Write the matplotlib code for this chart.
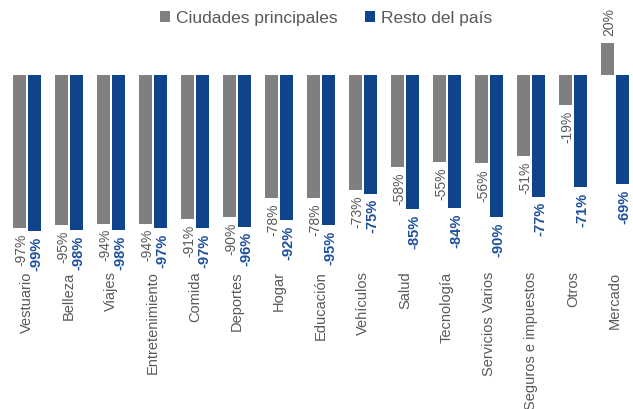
import matplotlib
matplotlib.use("Agg")
import matplotlib.pyplot as plt
import numpy as np

plt.rcParams["font.family"] = ["Liberation Sans", "DejaVu Sans"]

categorias = ["Vestuario", "Belleza", "Viajes", "Entretenimiento", "Comida",
              "Deportes", "Hogar", "Educación", "Vehículos", "Salud",
              "Tecnología", "Servicios Varios", "Seguros e impuestos",
              "Otros", "Mercado"]
ciudades = [-97, -95, -94, -94, -91, -90, -78, -78, -73, -58, -55, -56, -51, -19, 20]
resto = [-99, -98, -98, -97, -97, -96, -92, -95, -75, -85, -84, -90, -77, -71, -69]

GRIS = "#7f7f7f"
AZUL = "#0f438b"
AZUL_TXT = "#1d4f9c"
TXT = "#595959"

fig = plt.figure(figsize=(6.33, 4.09), dpi=100)
# eje: cero en y=75 px, 158 px por 100 %
ylo, yhi = -105, 22
top_px = 75 - yhi * 1.58
bot_px = 75 - ylo * 1.58
ax = fig.add_axes([0, (409 - bot_px) / 409, 1, (bot_px - top_px) / 409])

x = np.arange(len(categorias))
w = 0.3
off = 0.185
ax.bar(x - off, ciudades, w, color=GRIS, label="Ciudades principales")
ax.bar(x + off, resto, w, color=AZUL, label="Resto del país")

for xi, v in zip(x, ciudades):
    ax.annotate(f"{v}%", (xi - off + 0.05, v), xytext=(0, -4 if v < 0 else 5),
                textcoords="offset points", rotation=90, ha="center",
                va="top" if v < 0 else "bottom", fontsize=10, color=TXT)
for xi, v in zip(x, resto):
    ax.annotate(f"{v}%", (xi + off + 0.05, v), xytext=(0, -4),
                textcoords="offset points", rotation=90, ha="center",
                va="top", fontsize=10.5, color=AZUL_TXT, fontweight="bold")

ax.set_xlim(-27 / 42, (633 - 27) / 42)
ax.set_ylim(ylo, yhi)
ax.set_xticks(x)
ax.set_xticklabels(categorias, rotation=90, fontsize=10.5, color=TXT)
ax.tick_params(axis="x", length=0, pad=22)
ax.set_yticks([])
for s in ax.spines.values():
    s.set_visible(False)

fig.legend(loc="center", bbox_to_anchor=(326 / 633, 1 - 18 / 409), ncol=2,
           frameon=False, fontsize=12.5, labelcolor=TXT, handlelength=0.55,
           handleheight=0.55, handletextpad=0.35, columnspacing=1.6)

fig.savefig("out.png", dpi=100, facecolor="white")
